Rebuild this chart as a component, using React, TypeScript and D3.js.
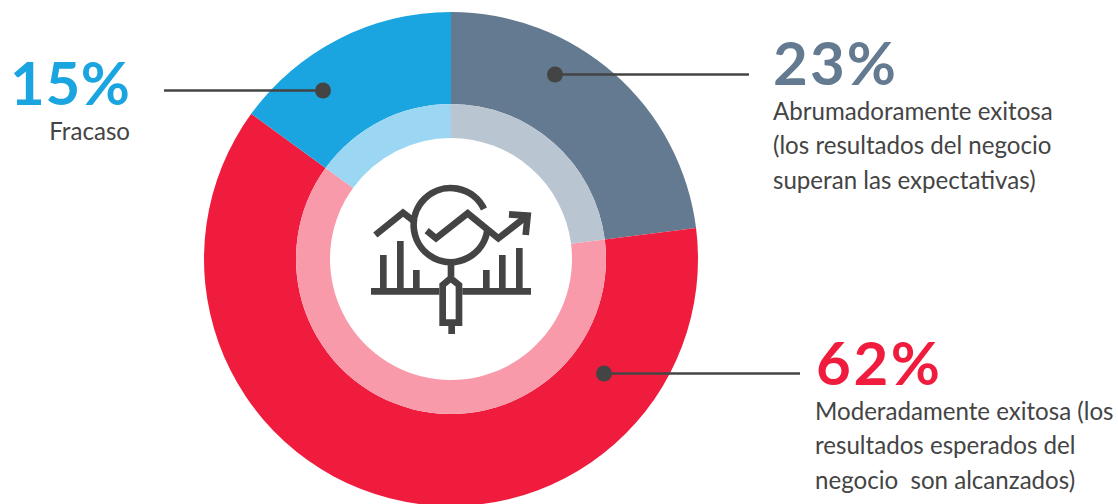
import React from "react";
import * as d3 from "d3";

const WIDTH = 1118;
const HEIGHT = 504;

const categories = ["Abrumadoramente exitosa", "Moderadamente exitosa", "Fracaso"];
const shares = [23, 62, 15];
const outerColors = ["#647A90", "#F01C3E", "#1AA5E0"];
const innerColors = ["#B9C5D1", "#F99AAB", "#9BD6F2"];
const valueLabels = ["23%", "62%", "15%"];

const descriptionLines = [
  ["Abrumadoramente exitosa", "(los resultados del negocio", "superan las expectativas)"],
  ["Moderadamente exitosa (los", "resultados esperados del", "negocio  son alcanzados)"],
  ["Fracaso"],
];

// Leader lines: dot position and far end of the line, per category.
const leaders = [
  { dot: [555, 74.5], end: 749 },
  { dot: [604, 373.5], end: 800 },
  { dot: [323, 90.5], end: 164 },
];

const valuePlacement = [
  { x: 773, y: 85, anchor: "start", length: 123 },
  { x: 816, y: 385, anchor: "start", length: 124 },
  { x: 130, y: 105, anchor: "end", length: 120 },
];

const descriptionPlacement = [
  { x: 773, y: 119.5, anchor: "start" },
  { x: 815, y: 419.5, anchor: "start" },
  { x: 130, y: 140, anchor: "end" },
];

const LINE_GAP = 34.7;
const INK = "#444444";
const FONT = "Lato, 'Open Sans', sans-serif";

const CX = 451;
const CY = 259;

const pie = d3.pie<number>().sort(null)(shares);
const outerArc = d3.arc<d3.PieArcDatum<number>>().innerRadius(155).outerRadius(247);
const innerArc = d3.arc<d3.PieArcDatum<number>>().innerRadius(121).outerRadius(155);

// Magnifier-over-chart pictogram, drawn on a grid three times finer than the page.
const bars = [
  [70, 255],
  [121, 213],
  [169, 300],
  [379, 300],
  [427, 255],
  [478, 234],
];

const iconPaths = [
  "M33 364H238M307 364H513",
  "M46 195L129 128L160 152",
  "M200 182L228 205L323 130L415 205L505 135",
  "M447 133L503 137L497 195",
  "M372 117A111 111 0 1 0 382 180",
  "M273 278V320",
  "M248 345L272 325L297 345V458H248Z",
  "M275 468V492",
];

function Icon() {
  return (
    <g transform="translate(360,170) scale(0.3333)" fill="none" stroke={INK} strokeWidth={20}>
      {bars.map(([x, top]) => (
        <line key={x} x1={x} x2={x} y1={top} y2={364} />
      ))}
      {iconPaths.map((d) => (
        <path key={d} d={d} />
      ))}
    </g>
  );
}

export default function App() {
  return (
    <svg
      width={WIDTH}
      height={HEIGHT}
      viewBox={`0 0 ${WIDTH} ${HEIGHT}`}
      style={{ position: "absolute", left: 0, top: 0, display: "block", background: "#fff" }}
    >
      <g transform={`translate(${CX},${CY})`}>
        {pie.map((slice, i) => (
          <g key={categories[i]}>
            <path d={outerArc(slice) ?? ""} fill={outerColors[i]} />
            <path d={innerArc(slice) ?? ""} fill={innerColors[i]} />
          </g>
        ))}
      </g>
      <Icon />
      {leaders.map(({ dot, end }, i) => (
        <g key={categories[i]}>
          <line x1={dot[0]} x2={end} y1={dot[1]} y2={dot[1]} stroke={INK} strokeWidth={2.5} />
          <circle cx={dot[0]} cy={dot[1]} r={8} fill={INK} />
        </g>
      ))}
      {valueLabels.map((label, i) => (
        <text
          key={label}
          x={valuePlacement[i].x}
          y={valuePlacement[i].y}
          textAnchor={valuePlacement[i].anchor as "start" | "end"}
          textLength={valuePlacement[i].length}
          lengthAdjust="spacing"
          fontFamily={FONT}
          fontWeight={700}
          fontSize={60}
          fill={outerColors[i]}
        >
          {label}
        </text>
      ))}
      {descriptionLines.map((lines, i) =>
        lines.map((line, j) => (
          <text
            key={line}
            x={descriptionPlacement[i].x}
            y={descriptionPlacement[i].y + j * LINE_GAP}
            textAnchor={descriptionPlacement[i].anchor as "start" | "end"}
            fontFamily={FONT}
            fontSize={24.1}
            fill={INK}
            style={{ whiteSpace: "pre" }}
          >
            {line}
          </text>
        )),
      )}
    </svg>
  );
}
